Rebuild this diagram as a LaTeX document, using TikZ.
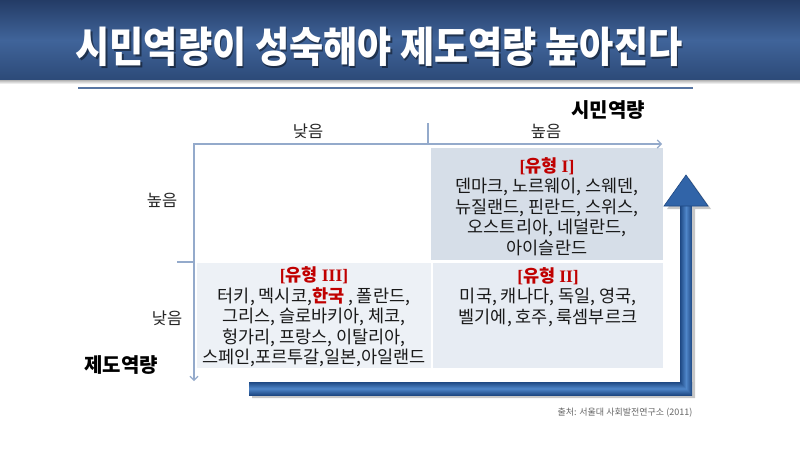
\documentclass[tikz,border=0pt]{standalone}
\usepackage{fontspec}
\usepackage{graphicx}
\setmainfont{Noto Sans CJK KR}
\newfontfamily\romanfont{Liberation Serif}
\usetikzlibrary{arrows.meta}
\definecolor{bannerTop}{HTML}{243C66}
\definecolor{bannerMid}{HTML}{40649A}
\definecolor{bannerBot}{HTML}{2C4A78}
\definecolor{axisBlue}{HTML}{94AACB}
\definecolor{rulecol}{HTML}{5876A3}
\definecolor{cellI}{HTML}{D6DEE8}
\definecolor{cellII}{HTML}{E7ECF3}
\definecolor{cellIII}{HTML}{EDF1F6}
\definecolor{typeRed}{HTML}{C00000}
\definecolor{arrowBlue}{HTML}{3164A8}
\definecolor{arrowDark}{HTML}{1E4883}
\definecolor{arrowLight}{HTML}{4F86C9}
\newcommand\typetag[1]{\textcolor{typeRed}{\bfseries{\romanfont[}유형 {\romanfont #1]}}}
\tikzset{
  axisline/.style={draw=axisBlue, line width=1.1pt},
  axlabel/.style={font=\fontsize{16.5}{19}\selectfont, text=black!85},
  dimlabel/.style={font=\fontsize{20}{23}\selectfont\bfseries, text=black},
  celltext/.style={align=center, font=\fontsize{17.5}{20.6}\selectfont, text=black!90, inner sep=0pt},
}
\begin{document}
\begin{tikzpicture}[x=1pt,y=-1pt]
\useasboundingbox (0,0) rectangle (800,450);
\fill[white] (0,0) rectangle (800,450);
% banner
\shade[top color=bannerTop, bottom color=bannerBot, middle color=bannerMid] (0,0) rectangle (800,80);
\shade[top color=black!30, bottom color=white] (0,80) rectangle (800,84);
\node[text=black, opacity=0.45, font=\fontsize{42}{46}\selectfont\bfseries] at (380.5,48.5) {\scalebox{0.885}[1]{시민역량이 성숙해야 제도역량 높아진다}};
\node[text=white, font=\fontsize{42}{46}\selectfont\bfseries] (title) at (379,47) {\scalebox{0.885}[1]{시민역량이 성숙해야 제도역량 높아진다}};
\draw[rulecol, line width=2pt] (78,88) -- (693,88);
% cells
\fill[cellI] (431,148) rectangle (663,260);
\fill[cellIII] (197,263) rectangle (431,368);
\fill[cellII] (433,263) rectangle (663,368);
% axes
\coordinate (o) at (194,144);
\coordinate (xend) at (662,144);
\coordinate (yend) at (194,381);
\draw[axisline, {Straight Barb[length=4pt,width=8pt]}-{Straight Barb[length=4pt,width=8pt]}] (xend) -- (o) -- (yend);
\draw[axisline] (428,123) -- (428,144);
\draw[axisline] (177,262) -- (194,262);
% labels
\node[dimlabel] (cit) at (608,110) {시민역량};
\node[dimlabel] (ins) at (121,365) {제도역량};
\node[axlabel] (xlow) at (308,131) {낮음};
\node[axlabel] (xhigh) at (546,131) {높음};
\node[axlabel] (yhigh) at (162,200) {높음};
\node[axlabel] (ylow) at (167,318) {낮음};
% cell texts
\node[celltext] (t1) at (547,206.5) {\typetag{I}\\덴마크, 노르웨이, 스웨덴,\\뉴질랜드, 핀란드, 스위스,\\오스트리아, 네덜란드,\\아이슬란드};
\node[celltext] (t3) at (314,317) {\typetag{III}\\터키, 멕시코,\textcolor{typeRed}{\bfseries 한국} , 폴란드,\\그리스, 슬로바키아, 체코,\\헝가리, 프랑스, 이탈리아,\\스페인,포르투갈,일본,아일랜드};
\node[celltext] (t2) at (548,297) {\typetag{II}\\미국, 캐나다, 독일, 영국,\\벨기에, 호주, 룩셈부르크};
% big arrow
\fill[black, opacity=0.22] (252,385) -- (683,385) -- (683,209) -- (667,209) -- (689,178) -- (711,209) -- (695,209) -- (695,398) -- (252,398) -- cycle;
\shade[top color=arrowDark, bottom color=arrowDark, middle color=arrowLight] (249,382) rectangle (692,395);
\shade[left color=arrowDark, right color=arrowDark, middle color=arrowLight] (680,205) -- (692,205) -- (692,395) -- (680,382) -- cycle;
\fill[arrowBlue] (664,206) -- (686,175) -- (708,206) -- cycle;
\draw[arrowDark, line width=0.6pt] (664,206) -- (686,175) -- (708,206) -- cycle;
% source
\node[font=\fontsize{9}{11}\selectfont, text=black!60] (src) at (625,413) {출처: 서울대 사회발전연구소 (2011)};
\end{tikzpicture}
\end{document}
